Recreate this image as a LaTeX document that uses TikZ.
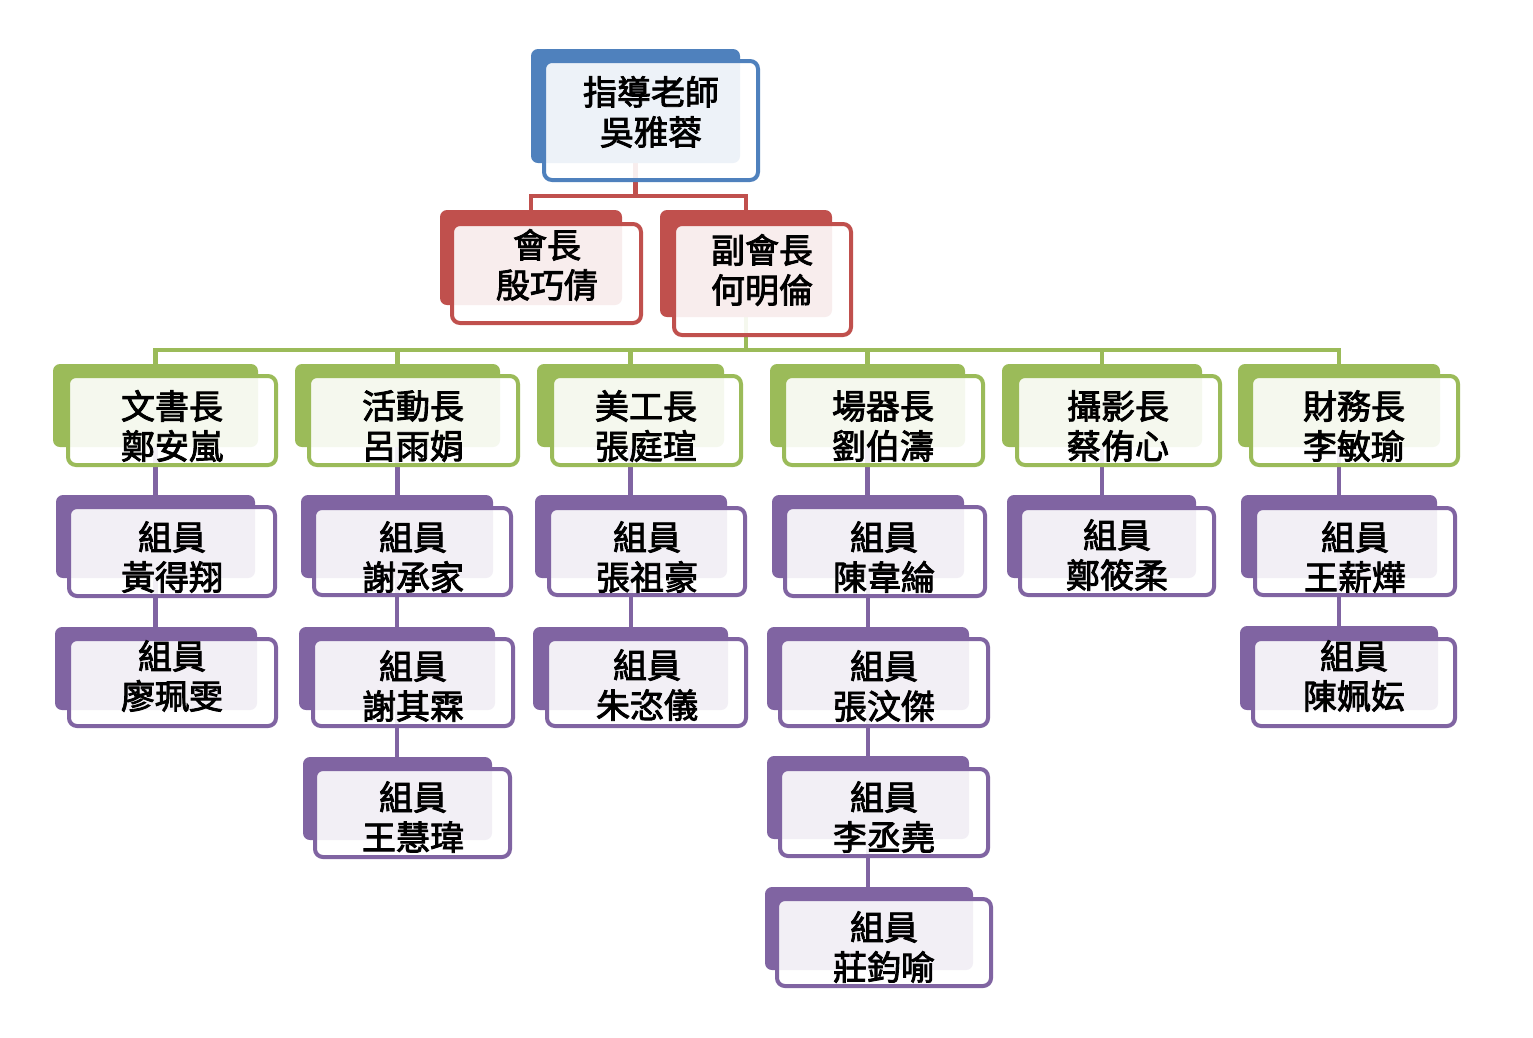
\documentclass[tikz,border=0pt]{standalone}
\usepackage{fontspec}
\newfontfamily\cjk[FakeBold=2.5]{Noto Sans CJK TC}
\definecolor{cblue}{HTML}{4F81BD}
\definecolor{cred}{HTML}{C0504D}
\definecolor{cgreen}{HTML}{9BBB59}
\definecolor{cpurple}{HTML}{8064A2}
\pgfdeclarelayer{paper}
\pgfdeclarelayer{bg}
\pgfsetlayers{paper,bg,main}
\tikzset{
  backbox/.style={rectangle, rounded corners=7pt, fill=#1, draw=none, inner sep=0pt, outer sep=0pt},
  frontbox/.style={rectangle, rounded corners=8pt, draw=#1, line width=4pt, fill=white, fill opacity=0.9, inner sep=0pt, outer sep=0pt},
  label/.style={font=\cjk\fontsize{34}{40}\selectfont, align=center, inner sep=0pt, text=black},
  conn/.style={draw=#1, line width=4.5pt},
}
% #1 name, #2 colour, #3-#6 back box x1,y1,x2,y2
\newcommand\backrect[6]{\node[backbox=#2, minimum width={(#5)-(#3)}, minimum height={(#6)-(#4)}] (#1-b) at ({((#3)+(#5))/2},{((#4)+(#6))/2}) {};}
% #1 name, #2 colour, #3-#6 front box x1,y1,x2,y2
\newcommand\frontrect[6]{\node[frontbox=#2, minimum width={(#5)-(#3)-4}, minimum height={(#6)-(#4)-4}] (#1) at ({((#3)+(#5))/2},{((#4)+(#6))/2}) {};}
\begin{document}
\begin{tikzpicture}[x=1pt,y=-1pt]
\useasboundingbox (0,0) rectangle (1533,1037);
\begin{pgfonlayer}{paper}
\fill[white] (0,0) rectangle (1533,1037);
\end{pgfonlayer}

% ---- top
\backrect{top}{cblue}{531}{49}{740}{163}
\frontrect{top}{cblue}{542}{59}{760}{182}
\node[label] (top-t) at (651,112) {指導老師\\吳雅蓉};

% ---- red level
\backrect{pres}{cred}{440}{210}{622}{305}
\frontrect{pres}{cred}{450}{222}{643}{325}
\node[label] (pres-t) at (547,265) {會長\\殷巧倩};
\backrect{vp}{cred}{660}{210}{832}{317}
\frontrect{vp}{cred}{672}{222}{853}{337}
\node[label] (vp-t) at (762,270) {副會長\\何明倫};

% ---- green level
\backrect{g1}{cgreen}{53}{364}{258}{447}
\frontrect{g1}{cgreen}{66}{374}{278}{467}
\node[label] (g1-t) at (172,426) {文書長\\鄭安嵐};
\backrect{g2}{cgreen}{295}{364}{500}{447}
\frontrect{g2}{cgreen}{307}{374}{520}{467}
\node[label] (g2-t) at (413,426) {活動長\\呂雨娟};
\backrect{g3}{cgreen}{537}{364}{724}{447}
\frontrect{g3}{cgreen}{550}{374}{743}{467}
\node[label] (g3-t) at (646,426) {美工長\\張庭瑄};
\backrect{g4}{cgreen}{770}{364}{965}{447}
\frontrect{g4}{cgreen}{782}{374}{985}{467}
\node[label] (g4-t) at (883,426) {場器長\\劉伯濤};
\backrect{g5}{cgreen}{1002}{364}{1202}{447}
\frontrect{g5}{cgreen}{1015}{374}{1222}{467}
\node[label] (g5-t) at (1118,426) {攝影長\\蔡侑心};
\backrect{g6}{cgreen}{1238}{364}{1440}{447}
\frontrect{g6}{cgreen}{1249}{374}{1460}{467}
\node[label] (g6-t) at (1354,426) {財務長\\李敏瑜};

% ---- purple level
\backrect{p11}{cpurple}{56}{495}{255}{578}
\frontrect{p11}{cpurple}{67}{505}{277}{598}
\node[label] (p11-t) at (172,557) {組員\\黃得翔};
\backrect{p12}{cpurple}{55}{627}{257}{710}
\frontrect{p12}{cpurple}{67}{637}{278}{728}
\node[label] (p12-t) at (172,676) {組員\\廖珮雯};

\backrect{p21}{cpurple}{301}{495}{493}{578}
\frontrect{p21}{cpurple}{312}{506}{513}{597}
\node[label] (p21-t) at (413,557) {組員\\謝承家};
\backrect{p22}{cpurple}{299}{627}{495}{710}
\frontrect{p22}{cpurple}{311}{637}{515}{728}
\node[label] (p22-t) at (413,686) {組員\\謝其霖};
\backrect{p23}{cpurple}{303}{757}{492}{840}
\frontrect{p23}{cpurple}{313}{767}{512}{859}
\node[label] (p23-t) at (413,817) {組員\\王慧瑋};

\backrect{p31}{cpurple}{535}{495}{727}{578}
\frontrect{p31}{cpurple}{547}{506}{747}{597}
\node[label] (p31-t) at (647,557) {組員\\張祖豪};
\backrect{p32}{cpurple}{533}{627}{728}{710}
\frontrect{p32}{cpurple}{545}{637}{748}{728}
\node[label] (p32-t) at (647,685) {組員\\朱恣儀};

\backrect{p41}{cpurple}{772}{495}{964}{578}
\frontrect{p41}{cpurple}{783}{505}{987}{598}
\node[label] (p41-t) at (884,557) {組員\\陳韋綸};
\backrect{p42}{cpurple}{767}{627}{969}{710}
\frontrect{p42}{cpurple}{778}{637}{990}{728}
\node[label] (p42-t) at (884,686) {組員\\張汶傑};
\backrect{p43}{cpurple}{767}{756}{969}{839}
\frontrect{p43}{cpurple}{778}{767}{990}{858}
\node[label] (p43-t) at (884,817) {組員\\李丞堯};
\backrect{p44}{cpurple}{765}{887}{973}{970}
\frontrect{p44}{cpurple}{775}{897}{993}{988}
\node[label] (p44-t) at (884,947) {組員\\莊鈞喻};

\backrect{p51}{cpurple}{1007}{495}{1196}{578}
\frontrect{p51}{cpurple}{1018}{506}{1216}{597}
\node[label] (p51-t) at (1117,555) {組員\\鄭筱柔};

\backrect{p61}{cpurple}{1241}{495}{1437}{578}
\frontrect{p61}{cpurple}{1253}{506}{1457}{597}
\node[label] (p61-t) at (1355,557) {組員\\王薪燁};
\backrect{p62}{cpurple}{1240}{626}{1438}{710}
\frontrect{p62}{cpurple}{1251}{637}{1457}{728}
\node[label] (p62-t) at (1354,676) {組員\\陳姵妘};

% ---- connectors (under the boxes)
\coordinate (redbar) at (0,196);
\coordinate (greenbar) at (0,350);
\begin{pgfonlayer}{bg}
\draw[conn=cred] (top-b.south) -- (top-b.south |- redbar) -| (pres-b.north);
\draw[conn=cred] (top-b.south |- redbar) -| (vp-b.north);
\draw[conn=cgreen] (vp-b.south) -- (vp-b.south |- greenbar);
\foreach \g in {g1,g2,g3,g4,g5,g6}
  \draw[conn=cgreen] (vp-b.south |- greenbar) -| (\g-b.north);
\draw[conn=cpurple] (g1-b.south) -- (g1-b.south |- p11-b.north);
\draw[conn=cpurple] (p11-b.south) -- (p11-b.south |- p12-b.north);
\draw[conn=cpurple] (g2-b.south) -- (g2-b.south |- p21-b.north);
\draw[conn=cpurple] (p21-b.south) -- (p21-b.south |- p22-b.north);
\draw[conn=cpurple] (p22-b.south) -- (p22-b.south |- p23-b.north);
\draw[conn=cpurple] (g3-b.south) -- (g3-b.south |- p31-b.north);
\draw[conn=cpurple] (p31-b.south) -- (p31-b.south |- p32-b.north);
\draw[conn=cpurple] (g4-b.south) -- (g4-b.south |- p41-b.north);
\draw[conn=cpurple] (p41-b.south) -- (p41-b.south |- p42-b.north);
\draw[conn=cpurple] (p42-b.south) -- (p42-b.south |- p43-b.north);
\draw[conn=cpurple] (p43-b.south) -- (p43-b.south |- p44-b.north);
\draw[conn=cpurple] (g5-b.south) -- (g5-b.south |- p51-b.north);
\draw[conn=cpurple] (g6-b.south) -- (g6-b.south |- p61-b.north);
\draw[conn=cpurple] (p61-b.south) -- (p61-b.south |- p62-b.north);
\end{pgfonlayer}
\end{tikzpicture}
\end{document}
